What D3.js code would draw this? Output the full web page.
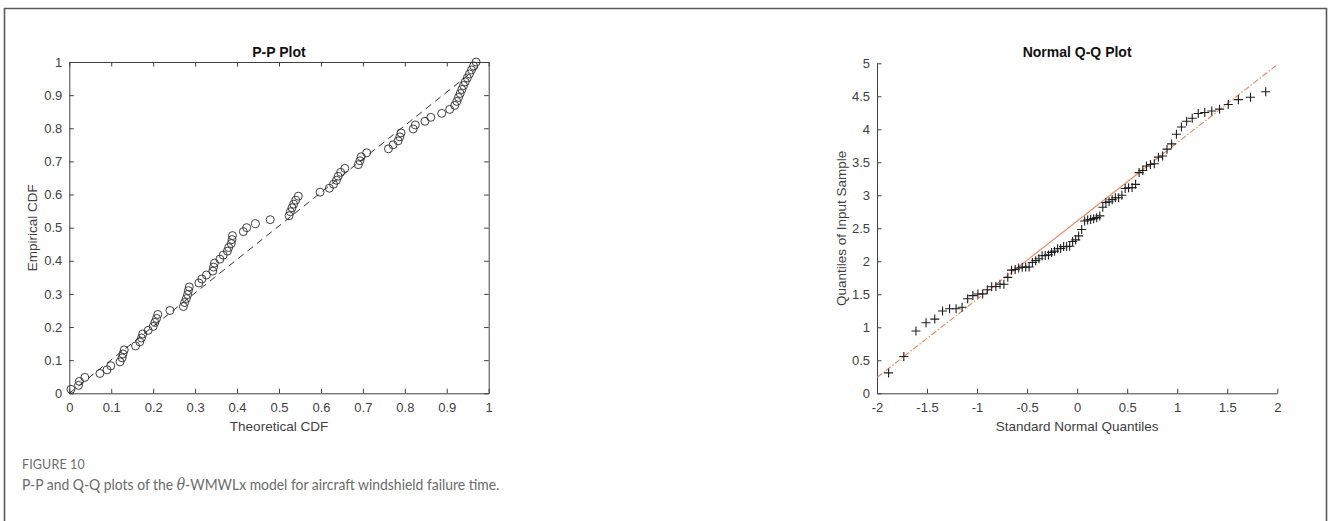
<!DOCTYPE html>
<html>
<head>
<meta charset="utf-8">
<script src="https://cdn.jsdelivr.net/npm/d3@7"></script>
<style>
  html, body { margin: 0; padding: 0; background: #fff; }
  svg { display: block; }
  .tick text { font-family: "Liberation Sans", Arial, sans-serif; font-size: 13px; fill: #404040; }
  .tick line, .domain { stroke: #404040; }
</style>
</head>
<body>
<svg id="fig" width="1328" height="521"></svg>
<script>
// ---- P-P plot: theoretical vs empirical CDF (84 windshield failure times) ----
const ppTheoretical = [
  0.004, 0.022, 0.024, 0.037, 0.073, 0.090, 0.099, 0.121, 0.126, 0.128,
  0.131, 0.158, 0.168, 0.172, 0.175, 0.188, 0.200, 0.204, 0.208, 0.211,
  0.240, 0.272, 0.275, 0.279, 0.282, 0.284, 0.286, 0.309, 0.316, 0.327,
  0.342, 0.344, 0.346, 0.359, 0.367, 0.377, 0.380, 0.386, 0.388, 0.389,
  0.415, 0.423, 0.444, 0.479, 0.524, 0.527, 0.531, 0.535, 0.540, 0.546,
  0.598, 0.620, 0.630, 0.637, 0.641, 0.647, 0.657, 0.689, 0.693, 0.696,
  0.709, 0.761, 0.772, 0.784, 0.788, 0.791, 0.820, 0.825, 0.848, 0.862,
  0.888, 0.907, 0.919, 0.924, 0.928, 0.932, 0.936, 0.940, 0.944, 0.949,
  0.954, 0.959, 0.964, 0.970
];
const ppEmpirical = [
  0.012, 0.024, 0.036, 0.048, 0.060, 0.071, 0.083, 0.095, 0.107, 0.119,
  0.131, 0.143, 0.155, 0.167, 0.179, 0.190, 0.202, 0.214, 0.226, 0.238,
  0.250, 0.262, 0.274, 0.286, 0.298, 0.310, 0.321, 0.333, 0.345, 0.357,
  0.369, 0.381, 0.393, 0.405, 0.417, 0.429, 0.440, 0.452, 0.464, 0.476,
  0.488, 0.500, 0.512, 0.524, 0.536, 0.548, 0.560, 0.571, 0.583, 0.595,
  0.607, 0.619, 0.631, 0.643, 0.655, 0.667, 0.679, 0.690, 0.702, 0.714,
  0.726, 0.738, 0.750, 0.762, 0.774, 0.786, 0.798, 0.810, 0.821, 0.833,
  0.845, 0.857, 0.869, 0.881, 0.893, 0.905, 0.917, 0.929, 0.940, 0.952,
  0.964, 0.976, 0.988, 1.000
];
// reference diagonal of the P-P plot
const ppRefX = [0.0, 0.98];
const ppRefY = [0.0, 0.99];
const ppTicks = [0, 0.1, 0.2, 0.3, 0.4, 0.5, 0.6, 0.7, 0.8, 0.9, 1];

// ---- Normal Q-Q plot (points inside the visible quantile window) ----
const qqNormal = [
  -1.884, -1.732, -1.611, -1.510, -1.423, -1.345, -1.275, -1.210, -1.150, -1.094,
  -1.042, -0.992, -0.944, -0.898, -0.854, -0.812, -0.771, -0.732, -0.693, -0.656,
  -0.619, -0.584, -0.549, -0.514, -0.480, -0.447, -0.414, -0.382, -0.350, -0.319,
  -0.287, -0.256, -0.226, -0.195, -0.165, -0.135, -0.105, -0.075, -0.045, -0.015,
   0.015,  0.045,  0.075,  0.105,  0.135,  0.165,  0.195,  0.226,  0.256,  0.287,
   0.319,  0.350,  0.382,  0.414,  0.447,  0.480,  0.514,  0.549,  0.584,  0.619,
   0.656,  0.693,  0.732,  0.771,  0.812,  0.854,  0.898,  0.944,  0.992,  1.042,
   1.094,  1.150,  1.210,  1.275,  1.345,  1.423,  1.510,  1.611,  1.732,  1.884
];
const qqSample = [
  0.309, 0.557, 0.943, 1.070, 1.124, 1.248, 1.281, 1.281, 1.303, 1.432,
  1.480, 1.505, 1.506, 1.568, 1.615, 1.619, 1.652, 1.652, 1.757, 1.866,
  1.876, 1.899, 1.911, 1.912, 1.914, 1.981, 2.010, 2.038, 2.085, 2.089,
  2.097, 2.135, 2.154, 2.190, 2.194, 2.223, 2.224, 2.229, 2.300, 2.324,
  2.385, 2.481, 2.610, 2.625, 2.632, 2.646, 2.661, 2.688, 2.820, 2.890,
  2.902, 2.934, 2.962, 2.964, 3.000, 3.103, 3.114, 3.117, 3.166, 3.344,
  3.376, 3.443, 3.467, 3.478, 3.578, 3.595, 3.699, 3.779, 3.924, 4.035,
  4.121, 4.167, 4.240, 4.255, 4.278, 4.305, 4.376, 4.449, 4.485, 4.570
];
// fitted line through the quartiles: solid between them, dash-dot beyond
const qqLineX = [-2, -0.674, 0.674, 2];
const qqLineY = [0.24, 1.81, 3.41, 4.98];
const qqXTicks = [-2, -1.5, -1, -0.5, 0, 0.5, 1, 1.5, 2];
const qqYTicks = [0, 0.5, 1, 1.5, 2, 2.5, 3, 3.5, 4, 4.5, 5];

const svg = d3.select("#fig");
const FONT = '"Liberation Sans", Arial, sans-serif';
const INK = "#404040";

// outer frame of the figure panel
svg.append("path")
  .attr("d", "M4.5,530 V8.5 H1326.5 V530")
  .attr("fill", "none").attr("stroke", "#5a5a5a").attr("stroke-width", 1.6);

const fmt = d => String(d);

// ---------------- P-P plot ----------------
{
  const x = d3.scaleLinear().domain([0, 1]).range([69.3, 488.7]);
  const y = d3.scaleLinear().domain([0, 1]).range([393.3, 62]);
  const g = svg.append("g");

  g.append("g").attr("transform", `translate(0,${y(0)})`)
    .call(d3.axisBottom(x).tickValues(ppTicks).tickFormat(fmt).tickSizeInner(-4.5).tickSizeOuter(0).tickPadding(9));
  g.append("g").attr("transform", `translate(${x(0)},0)`)
    .call(d3.axisLeft(y).tickValues(ppTicks).tickFormat(fmt).tickSizeInner(-4.5).tickSizeOuter(0).tickPadding(7));
  g.append("g").attr("transform", `translate(0,${y(1)})`)
    .call(d3.axisTop(x).tickValues(ppTicks).tickFormat("").tickSizeInner(-4.5).tickSizeOuter(0));
  g.append("g").attr("transform", `translate(${x(1)},0)`)
    .call(d3.axisRight(y).tickValues(ppTicks).tickFormat("").tickSizeInner(-4.5).tickSizeOuter(0));

  g.append("line")
    .attr("x1", x(ppRefX[0])).attr("y1", y(ppRefY[0]))
    .attr("x2", x(ppRefX[1])).attr("y2", y(ppRefY[1]))
    .attr("stroke", "#333").attr("stroke-width", 1).attr("stroke-dasharray", "7,5");

  g.selectAll("circle.pp").data(ppTheoretical).join("circle")
    .attr("class", "pp")
    .attr("cx", d => x(d))
    .attr("cy", (d, i) => y(ppEmpirical[i]))
    .attr("r", 4)
    .attr("fill", "none").attr("stroke", "#2a2a2a").attr("stroke-width", 0.9);

  g.append("text").attr("x", (x(0) + x(1)) / 2).attr("y", 57)
    .attr("text-anchor", "middle").attr("font-family", FONT)
    .attr("font-size", 14).attr("font-weight", "bold").attr("fill", "#111")
    .text("P-P Plot");
  g.append("text").attr("x", (x(0) + x(1)) / 2).attr("y", 431)
    .attr("text-anchor", "middle").attr("font-family", FONT)
    .attr("font-size", 13.5).attr("fill", INK)
    .text("Theoretical CDF");
  g.append("text").attr("transform", `translate(37,${(y(0) + y(1)) / 2}) rotate(-90)`)
    .attr("text-anchor", "middle").attr("font-family", FONT)
    .attr("font-size", 13.5).attr("fill", INK)
    .text("Empirical CDF");
}

// ---------------- Normal Q-Q plot ----------------
{
  const x = d3.scaleLinear().domain([-2, 2]).range([877, 1277.3]);
  const y = d3.scaleLinear().domain([0, 5]).range([393.3, 63.3]);
  const g = svg.append("g");

  g.append("g").attr("transform", `translate(0,${y(0)})`)
    .call(d3.axisBottom(x).tickValues(qqXTicks).tickFormat(fmt).tickSizeInner(-4.5).tickSizeOuter(0).tickPadding(9));
  g.append("g").attr("transform", `translate(${x(-2)},0)`)
    .call(d3.axisLeft(y).tickValues(qqYTicks).tickFormat(fmt).tickSizeInner(-4.5).tickSizeOuter(0).tickPadding(7));

  const line = d3.line().x(d => x(d[0])).y(d => y(d[1]));
  const pts = qqLineX.map((v, i) => [v, qqLineY[i]]);
  const lineColor = "#ec8559";
  // dash-dot extensions
  g.append("path").attr("d", line([pts[0], pts[1]]))
    .attr("stroke", lineColor).attr("stroke-width", 1.1).attr("fill", "none")
    .attr("stroke-dasharray", "6,2,1.5,2");
  g.append("path").attr("d", line([pts[2], pts[3]]))
    .attr("stroke", lineColor).attr("stroke-width", 1.1).attr("fill", "none")
    .attr("stroke-dasharray", "6,2,1.5,2");
  // solid segment between the quartiles
  g.append("path").attr("d", line([pts[1], pts[2]]))
    .attr("stroke", lineColor).attr("stroke-width", 1.1).attr("fill", "none");

  const s = 4.5;
  g.selectAll("path.qq").data(qqNormal).join("path")
    .attr("class", "qq")
    .attr("d", (d, i) => {
      const cx = x(d), cy = y(qqSample[i]);
      return `M${cx - s},${cy}H${cx + s}M${cx},${cy - s}V${cy + s}`;
    })
    .attr("stroke", "#1e1e1e").attr("stroke-width", 1.1).attr("fill", "none");

  g.append("text").attr("x", (x(-2) + x(2)) / 2).attr("y", 57)
    .attr("text-anchor", "middle").attr("font-family", FONT)
    .attr("font-size", 14).attr("font-weight", "bold").attr("fill", "#111")
    .text("Normal Q-Q Plot");
  g.append("text").attr("x", (x(-2) + x(2)) / 2).attr("y", 431)
    .attr("text-anchor", "middle").attr("font-family", FONT)
    .attr("font-size", 13.5).attr("fill", INK)
    .text("Standard Normal Quantiles");
  g.append("text").attr("transform", `translate(846,${(y(0) + y(5)) / 2}) rotate(-90)`)
    .attr("text-anchor", "middle").attr("font-family", FONT)
    .attr("font-size", 13.5).attr("fill", INK)
    .text("Quantiles of Input Sample");
}

// ---------------- caption ----------------
svg.append("text").attr("transform", "translate(22,469) scale(0.92,1)")
  .attr("font-family", "Lato, 'Open Sans', sans-serif").attr("font-size", 13.5)
  .attr("fill", "#6b6b6b").attr("letter-spacing", 0.2)
  .text("FIGURE 10");
const cap = svg.append("text").attr("transform", "translate(22,490) scale(0.87,1)")
  .attr("font-family", "Lato, 'Open Sans', sans-serif").attr("font-size", 16)
  .attr("fill", "#6b6b6b");
cap.append("tspan").text("P-P and Q-Q plots of the ");
cap.append("tspan").attr("font-family", "'DejaVu Serif', 'Liberation Serif', serif").attr("font-style", "italic").text("θ");
cap.append("tspan").text("-WMWLx model for aircraft windshield failure time.");
</script>
</body>
</html>
